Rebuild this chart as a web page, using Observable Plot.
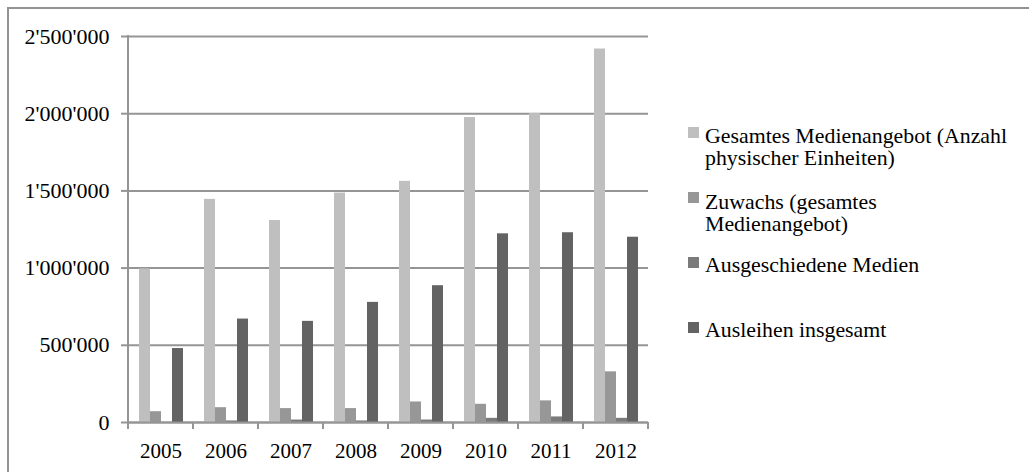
<!DOCTYPE html>
<html>
<head>
<meta charset="utf-8">
<script src="https://cdn.jsdelivr.net/npm/d3@7"></script>
<script src="https://cdn.jsdelivr.net/npm/@observablehq/plot@0.6"></script>
<style>
  html, body { margin: 0; padding: 0; background: #fff; overflow: hidden; }
  #wrap { position: relative; width: 1029px; height: 472px; }
  #frame { position: absolute; left: 7px; top: 7px; width: 1040px; height: 480px;
           border: 2px solid #939393; box-sizing: border-box; }
  #chart { position: absolute; left: 0; top: 0; }
  #legend { position: absolute; left: 0; top: 0; font-family: "Liberation Serif", "Times New Roman", serif;
            font-size: 21px; line-height: 21.5px; color: #000; }
  .sw { position: absolute; left: 688px; width: 11px; height: 11px; }
  .lab { position: absolute; left: 705px; white-space: pre; transform: scaleX(1.04); transform-origin: left top; }
</style>
</head>
<body>
<div id="wrap">
  <div id="frame"></div>
  <div id="chart"></div>
  <div id="legend"></div>
</div>
<script>
// Jahre (Kategorien)
const years = ["2005", "2006", "2007", "2008", "2009", "2010", "2011", "2012"];

// Datenreihen
const seriesNames = [
  "Gesamtes Medienangebot (Anzahl physischer Einheiten)",
  "Zuwachs (gesamtes Medienangebot)",
  "Ausgeschiedene Medien",
  "Ausleihen insgesamt"
];
const legendLabels = [
  "Gesamtes Medienangebot (Anzahl\nphysischer Einheiten)",
  "Zuwachs (gesamtes\nMedienangebot)",
  "Ausgeschiedene Medien",
  "Ausleihen insgesamt"
];
const gesamtes      = [995000, 1445000, 1308000, 1486000, 1562000, 1975000, 2001000, 2419000];
const zuwachs       = [70000, 96000, 90000, 90000, 133000, 118000, 140000, 328000];
const ausgeschieden = [0, 10000, 16000, 10000, 16000, 27000, 36000, 27000];
const ausleihen     = [479000, 670000, 655000, 778000, 886000, 1222000, 1229000, 1200000];
const seriesColors  = ["#bfbfbf", "#979797", "#7b7b7b", "#636363"];

// Achsenbeschriftung
const yTicks = [0, 500000, 1000000, 1500000, 2000000, 2500000];

const seriesValues = [gesamtes, zuwachs, ausgeschieden, ausleihen];
const data = years.flatMap((year, i) =>
  seriesNames.map((name, s) => ({year, series: name, value: seriesValues[s][i]}))
);

const fmt = d3.formatLocale({decimal: ".", thousands: "'", grouping: [3], currency: ["", ""]}).format(",d");

const gridColor = "#959595";
const font = "'Liberation Serif', 'Times New Roman', serif";

const plot = Plot.plot({
  width: 1029,
  height: 472,
  marginLeft: 127,
  marginRight: 381,
  marginTop: 36,
  marginBottom: 50,
  style: {fontFamily: font, fontSize: "21px", color: "#000", background: "transparent"},
  fx: {domain: years, padding: 0, label: null},
  x: {domain: seriesNames, paddingInner: 0, paddingOuter: 0.71, axis: null},
  y: {domain: [0, 2500000], label: null},
  color: {domain: seriesNames, range: seriesColors},
  marks: [
    Plot.gridY(yTicks, {stroke: gridColor, strokeOpacity: 1, strokeWidth: 2}),
    Plot.barY(data, {fx: "year", x: "series", y: "value", fill: "series"}),
    Plot.ruleY([0], {stroke: gridColor, strokeWidth: 2}),
    Plot.axisY(yTicks, {
      anchor: "left", tickSize: 7, tickPadding: 12, tickFormat: fmt,
      stroke: gridColor, strokeWidth: 2, label: null, fontSize: 22
    }),
    Plot.axisFx({anchor: "bottom", tickSize: 0, tickPadding: 21, label: null, fontSize: 21})
  ]
});

document.getElementById("chart").appendChild(plot);

// Achsenlinie links und Kategorie-Trennstriche unten, aus den Plot-Skalen abgeleitet
const fx = plot.scale("fx");
const y = plot.scale("y");
const svg = d3.select(plot);
const y0 = y.apply(0);
const yTop = y.apply(2500000);
const left = fx.apply(years[0]);
const bounds = years.map(d => fx.apply(d)).concat([fx.apply(years[years.length - 1]) + fx.bandwidth]);
const g = svg.append("g").attr("stroke", gridColor).attr("stroke-width", 2);
g.append("line").attr("x1", left).attr("x2", left).attr("y1", yTop - 1).attr("y2", y0);
g.selectAll("line.b").data(bounds).join("line").attr("class", "b")
  .attr("x1", d => d).attr("x2", d => d).attr("y1", y0).attr("y2", y0 + 7);

// Legende
const swatchTops = [127, 192, 257, 322];
const labelTops = [126, 192, 255, 320];
const legend = document.getElementById("legend");
seriesNames.forEach((name, i) => {
  const sw = document.createElement("div");
  sw.className = "sw";
  sw.style.top = swatchTops[i] + "px";
  sw.style.background = seriesColors[i];
  legend.appendChild(sw);
  const lab = document.createElement("div");
  lab.className = "lab";
  lab.style.top = labelTops[i] + "px";
  lab.textContent = legendLabels[i];
  legend.appendChild(lab);
});
</script>
</body>
</html>
